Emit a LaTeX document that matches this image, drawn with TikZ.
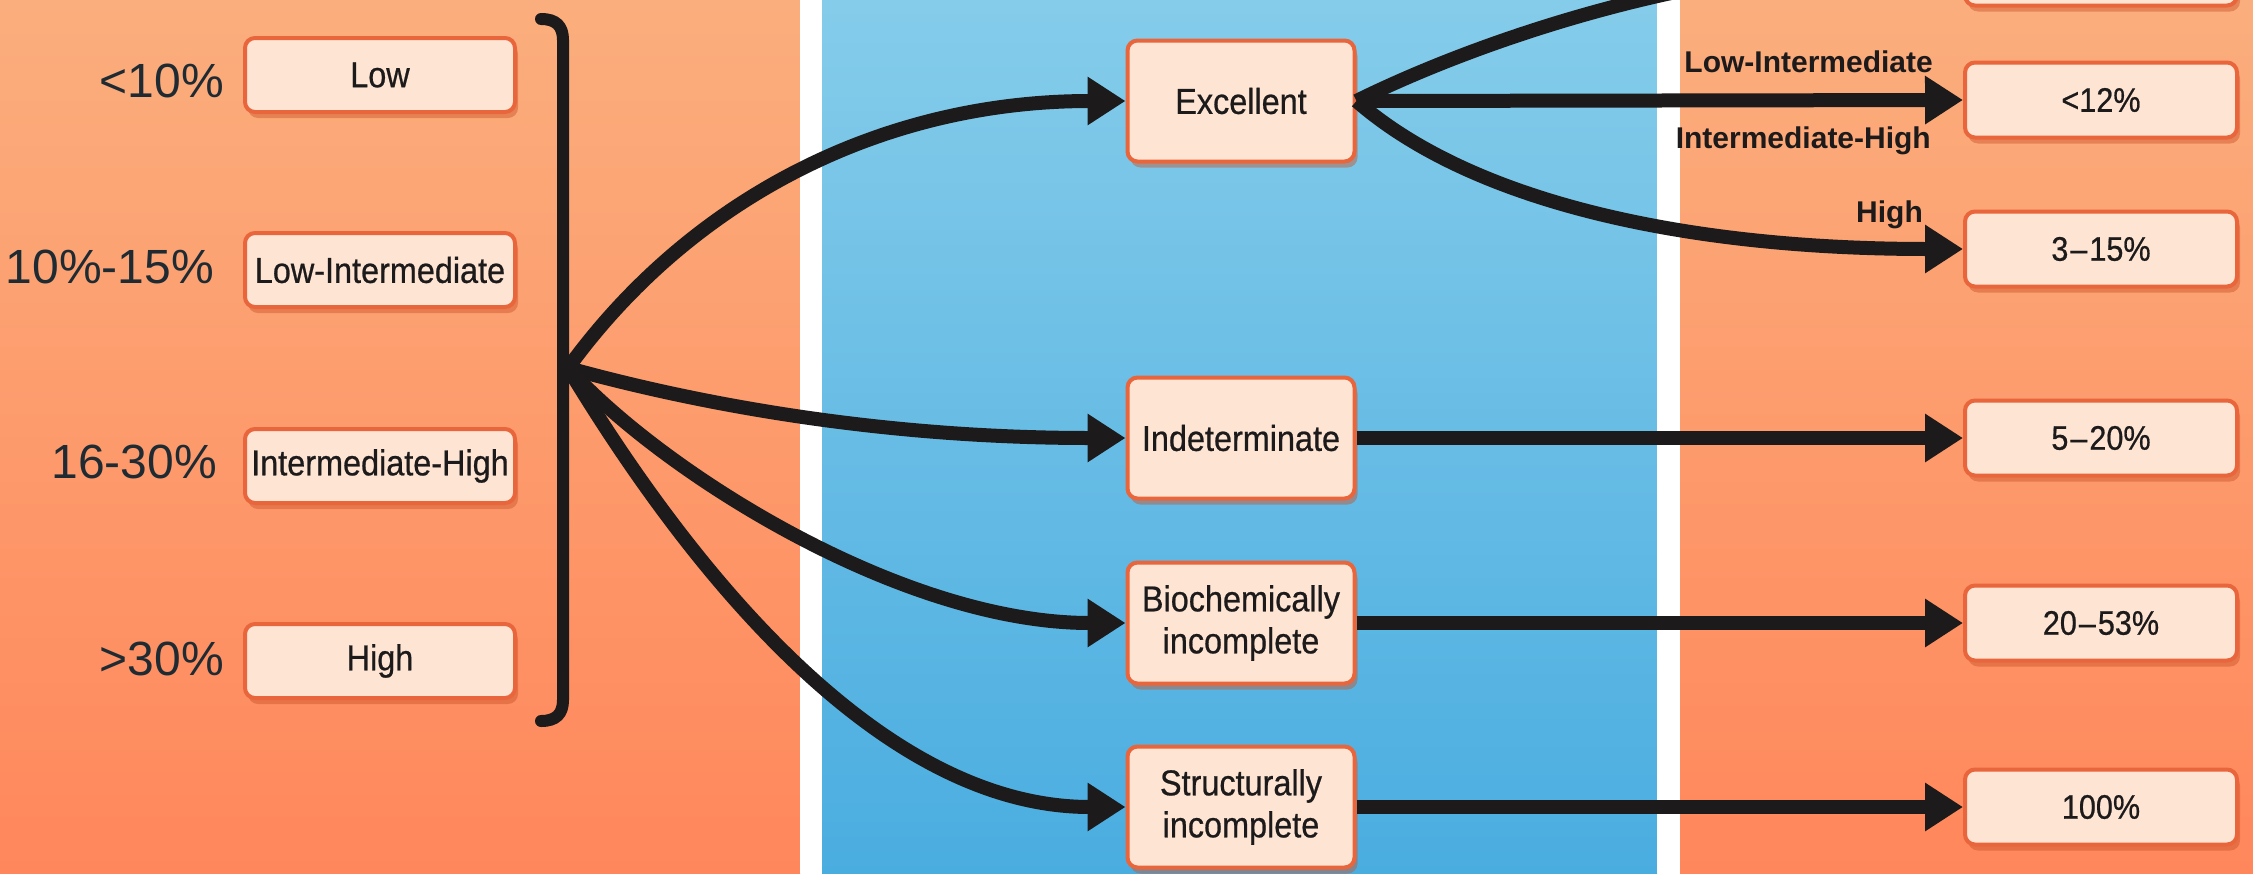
\documentclass[tikz,border=0pt]{standalone}
\usepackage{fontspec}
\setmainfont{Liberation Sans}
\newfontfamily\condfont[FakeStretch=0.9,FakeBold=0.6]{Liberation Sans}
\usetikzlibrary{arrows.meta,shadows}
\definecolor{boxfill}{HTML}{FDE4D3}
\definecolor{boxline}{HTML}{E9663C}
\definecolor{shadowc}{HTML}{C9532A}
\definecolor{orangeTop}{HTML}{FBAE7D}
\definecolor{orangeBot}{HTML}{FF875B}
\definecolor{blueTop}{HTML}{85CCEA}
\definecolor{blueBot}{HTML}{4AADE0}
\definecolor{ink}{HTML}{1C1A1A}
\definecolor{labelc}{HTML}{1F2B33}
\begin{document}
\begin{tikzpicture}[x=1pt,y=-1pt,
  box/.style={draw=boxline, line width=4pt, fill=boxfill, rounded corners=10pt, inner sep=0pt, align=center, text=ink,
    font=\condfont\fontsize{36}{42}\selectfont,
    drop shadow={shadow xshift=3pt, shadow yshift=-6pt, fill=shadowc, opacity=0.45}},
  lbox/.style={box, minimum width=270pt, minimum height=74pt},
  mbox/.style={box, minimum width=227pt, minimum height=121pt},
  rbox/.style={box, minimum width=272pt, minimum height=75pt, font=\condfont\fontsize{34}{40}\selectfont},
  pct/.style={anchor=base east, text=labelc, font=\fontsize{48}{52}\selectfont, inner sep=0pt},
  conn/.style={draw=ink, line width=14pt, -{Triangle[length=38pt,width=46pt]}},
  brk/.style={draw=ink, line width=12pt, line cap=round},
  elabel/.style={anchor=base east, font=\bfseries\fontsize{30}{32}\selectfont, text=ink, inner sep=0pt}
]
\useasboundingbox (0,0) rectangle (2253,873);
\clip (0,0) rectangle (2253,873);
% backgrounds
\shade[top color=orangeTop, bottom color=orangeBot] (0,0) rectangle (800,873);
\fill[white] (800,0) rectangle (822,873);
\shade[top color=blueTop, bottom color=blueBot] (822,0) rectangle (1657,873);
\fill[white] (1657,0) rectangle (1680,873);
\shade[top color=orangeTop, bottom color=orangeBot] (1680,0) rectangle (2253,873);

% left boxes
\node[lbox] (low) at (380,75) {Low};
\node[lbox] (lowint) at (380,270) {Low-Intermediate};
\node[lbox] (inthigh) at (380,466) {Intermediate-High};
\node[lbox] (high) at (380,661) {High};

\node[pct] (p1) at (224,97) {<10\%};
\node[pct] (p2) at (214,283) {10\%-15\%};
\node[pct] (p3) at (217,478) {16-30\%};
\node[pct] (p4) at (224,675) {>30\%};

% bracket
\draw[brk] (541,19) .. controls (556,19) and (563,26) .. (563,40) -- (563,700) .. controls (563,714) and (556,721) .. (541,721);
\coordinate (fan) at (568,368);

% middle boxes
\node[mbox] (exc) at (1241,101) {Excellent};
\node[mbox] (ind) at (1241,438) {Indeterminate};
\node[mbox] (bio) at (1241,623) {Biochemically\\incomplete};
\node[mbox] (str) at (1241,807) {Structurally\\incomplete};

% right boxes
\node[rbox] (rtop) at (2101,-32) {};
\node[rbox] (r12) at (2101,100) {<12\%};
\node[rbox] (r315) at (2101,249) {3\kern2pt–\kern2pt15\%};
\node[rbox] (r520) at (2101,438) {5\kern2pt–\kern2pt20\%};
\node[rbox] (r2053) at (2101,623) {20\kern2pt–\kern2pt53\%};
\node[rbox] (r100) at (2101,807) {100\%};

% connectors left
\draw[conn] (fan) .. controls (690,200) and (880,101) .. (exc.west);
\draw[conn] (fan) .. controls (720,410) and (900,438) .. (ind.west);
\draw[conn] (fan) .. controls (660,470) and (900,623) .. (bio.west);
\draw[conn] (fan) .. controls (690,570) and (880,807) .. (str.west);

% connectors right
\draw[conn] (exc.east) .. controls (1490,35) and (1720,-40) .. (rtop.west);
\draw[conn] (exc.east) -- (r12.west);
\draw[conn] (exc.east) .. controls (1470,200) and (1680,249) .. (r315.west);
\draw[conn] (ind.east) -- (r520.west);
\draw[conn] (bio.east) -- (r2053.west);
\draw[conn] (str.east) -- (r100.west);

% edge labels
\node[elabel] (l1) at (1933,72) {Low-Intermediate};
\node[elabel] (l2) at (1931,148) {Intermediate-High};
\node[elabel] (l3) at (1923,222) {High};
\end{tikzpicture}
\end{document}
